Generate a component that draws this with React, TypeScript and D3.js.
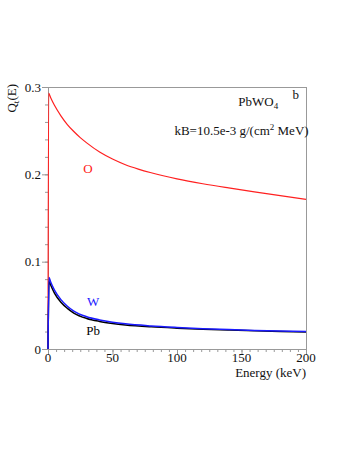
import * as d3 from "d3";

// Q_t(E) quenching curves for PbWO4
const energyO = [0, 0.5, 2, 5, 10, 15, 20, 25, 30, 40, 50, 60, 70, 80, 100, 120, 140, 160, 180, 200];
const qO = [0, 0.293, 0.288, 0.279, 0.267, 0.257, 0.249, 0.242, 0.236, 0.2255, 0.2175, 0.211, 0.206, 0.2018, 0.1948, 0.1892, 0.1844, 0.1799, 0.1756, 0.1713];

const energyW = [0, 0.8, 2, 5, 10, 15, 20, 30, 40, 50, 60, 80, 100, 120, 140, 160, 180, 200];
const qW = [0, 0.082, 0.077, 0.0675, 0.0565, 0.049, 0.0435, 0.037, 0.0333, 0.0307, 0.0288, 0.0264, 0.0247, 0.0233, 0.0222, 0.0213, 0.0205, 0.0199];
const qPb = [0, 0.078, 0.0735, 0.064, 0.0535, 0.0465, 0.0412, 0.035, 0.0316, 0.0293, 0.0276, 0.0254, 0.0239, 0.0227, 0.0217, 0.0208, 0.0201, 0.0195];

const xTicks = [0, 50, 100, 150, 200];
const yTicks = [0, 0.1, 0.2, 0.3];

export default function App() {
  const margin = { left: 48, top: 87, right: 54, bottom: 117 };
  const W = 360, H = 466;
  const width = W - margin.left - margin.right;
  const height = H - margin.top - margin.bottom;

  const x = d3.scaleLinear().domain([0, 200]).range([0, width]);
  const y = d3.scaleLinear().domain([0, 0.3]).range([height, 0]);

  const line = d3.line<[number, number]>()
    .x(d => x(d[0]))
    .y(d => y(d[1]))
    .curve(d3.curveMonotoneX);

  const series = [
    { e: energyO, q: qO, color: "#ff2020", w: 1.2 },
    { e: energyW, q: qPb, color: "#000000", w: 1.5 },
    { e: energyW, q: qW, color: "#1a1aff", w: 1.5 },
  ];

  const xMinor = d3.range(0, 200.01, 6.25);
  const yMinor = d3.range(0, 0.3001, 0.02);
  const font = "Liberation Serif";
  const axisColor = "#999";

  return (
    <svg width={W} height={H} style={{ position: "absolute", left: 0, top: 0, background: "#fff" }}
      fontFamily={font} fontSize={13}>
      <g transform={`translate(${margin.left},${margin.top})`}>
        {/* frame */}
        <rect x={0.5} y={0.5} width={width} height={height} fill="none" stroke={axisColor} strokeWidth={1} />

        {/* y ticks */}
        {yMinor.map((v, i) => (
          <line key={"ym" + i} x1={0} x2={-3} y1={y(v) + 0.5} y2={y(v) + 0.5} stroke={axisColor} />
        ))}
        {yTicks.map(v => (
          <g key={"y" + v}>
            <line x1={0} x2={-6} y1={y(v) + 0.5} y2={y(v) + 0.5} stroke={axisColor} />
            <text x={-7} y={y(v)} dy="0.35em" textAnchor="end" fill="#111">{v === 0 ? "0" : d3.format(".1f")(v)}</text>
          </g>
        ))}

        {/* x ticks */}
        {xMinor.map((v, i) => (
          <line key={"xm" + i} x1={x(v) + 0.5} x2={x(v) + 0.5} y1={height} y2={height + 3} stroke={axisColor} />
        ))}
        {xTicks.map(v => (
          <g key={"x" + v}>
            <line x1={x(v) + 0.5} x2={x(v) + 0.5} y1={height} y2={height + 6} stroke={axisColor} />
            <text x={x(v)} y={height + 13} textAnchor="middle" fill="#111">{v}</text>
          </g>
        ))}

        {/* curves */}
        {series.map((s, i) => (
          <path key={i} d={line(s.e.map((e, j) => [e, s.q[j]] as [number, number])) || ""}
            fill="none" stroke={s.color} strokeWidth={s.w} />
        ))}

        {/* labels */}
        <text x={x(31)} y={y(0.2)} dy="-0.1em" textAnchor="middle" fill="#ff2020">O</text>
        <text x={x(35)} y={y(0.055)} dy="0.35em" textAnchor="middle" fill="#1a1aff">W</text>
        <text x={x(35)} y={y(0.021)} dy="0.35em" textAnchor="middle" fill="#000">Pb</text>

        <text x={x(163)} y={19} textAnchor="middle" fill="#111">
          PbWO<tspan fontSize={9} dy={3}>4</tspan>
        </text>
        <text x={x(192)} y={12} textAnchor="middle" fill="#111">b</text>
        <text x={x(150)} y={48} textAnchor="middle" fill="#111">
          kB=10.5e-3 g/(cm<tspan fontSize={9} dy={-5}>2</tspan><tspan dy={5}> MeV)</tspan>
        </text>

        {/* axis titles */}
        <text x={width} y={height + 28} textAnchor="end" fill="#111">Energy (keV)</text>
        <text transform={`translate(${-32},${-3}) rotate(-90)`} textAnchor="end" fill="#111">
          Q<tspan fontSize={9} dy={3}>t</tspan><tspan dy={-3}>(E)</tspan>
        </text>
      </g>
    </svg>
  );
}
